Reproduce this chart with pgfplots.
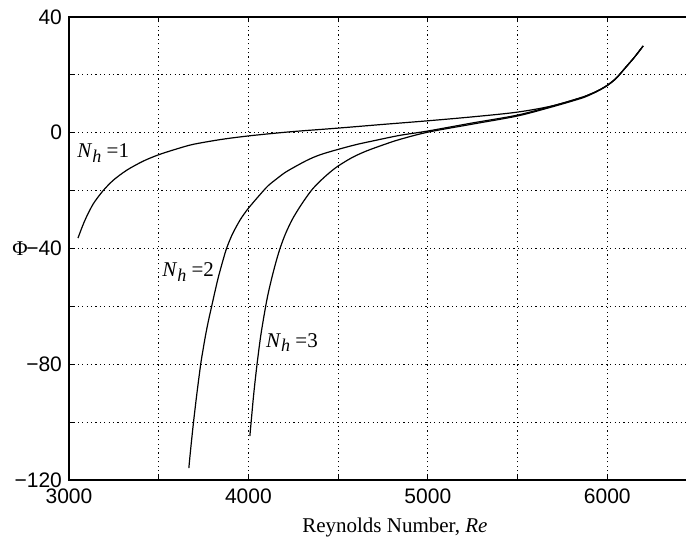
\documentclass[border=0pt]{standalone}
\usepackage{fontspec}
\setmainfont{Liberation Serif}
\newfontfamily\helv{Liberation Sans}
\usepackage{pgfplots}
\pgfplotsset{compat=1.18}

\pgfplotstableread{
Re Phi
3050 -36.4
3075 -32.3
3098 -29.0
3136 -24.5
3189 -20.1
3247 -16.4
3323 -12.9
3414 -9.8
3500 -7.6
3600 -5.6
3693 -4.0
3850 -2.3
4000 -1.1
4175 0.0
4287 0.6
4499 1.6
4733 2.8
4994 4.1
5250 5.5
5496 7.1
5696 9.3
5850 12.1
5900 13.2
5950 14.6
6000 16.4
6050 18.9
6100 22.4
6150 26.0
6200 30.0
}\nhone

\pgfplotstableread{
Re Phi
3668 -115.9
3677 -110.0
3694 -100.0
3713 -90.0
3734 -80.0
3747 -75.0
3761 -70.0
3777 -65.0
3795 -60.0
3813 -55.0
3832 -50.0
3854 -45.0
3878 -40.0
3911 -35.0
3955 -30.0
3996 -26.4
4035 -23.5
4070 -21.0
4110 -18.3
4160 -15.8
4213 -13.4
4324 -9.6
4400 -7.6
4497 -5.8
4600 -4.1
4696 -2.8
4844 -0.9
5000 0.6
5250 3.4
5500 6.1
5696 9.3
5850 12.0
5900 13.2
5950 14.6
6000 16.4
6050 18.9
6100 22.4
6150 26.0
6200 30.0
}\nhtwo

\pgfplotstableread{
Re Phi
4008 -104.8
4015 -100.0
4030 -90.0
4048 -80.0
4069 -70.0
4096 -60.0
4112 -55.0
4131 -50.0
4152 -45.0
4176 -40.0
4206 -35.0
4244 -30.0
4293 -25.0
4350 -20.0
4395 -17.0
4448 -14.0
4500 -11.5
4580 -8.5
4658 -6.3
4760 -4.0
4844 -2.3
5000 0.2
5250 3.0
5500 5.8
5696 9.0
5850 11.8
5900 13.0
5950 14.5
6000 16.3
6050 18.8
6100 22.4
6150 26.0
6200 30.0
}\nhthree

\begin{document}
\begin{tikzpicture}[font=\fontsize{10.5}{12.6}\selectfont]
\begin{axis}[
    at={(0pt,0pt)}, anchor=south west,
    scale only axis,
    width=314pt, height=231.5pt,
    xmin=3000, xmax=6500,
    ymin=-120, ymax=40,
    xtick={3000,4000,5000,6000},
    xticklabels={3000,4000,5000,6000},
    minor xtick={3500,4500,5500,6500},
    ytick={-120,-80,-40,0,40},
    yticklabels={−120,−80,−40,0,40},
    minor ytick={-100,-60,-20,20},
    xticklabel style={font=\helv\fontsize{10.5}{12.6}\selectfont, yshift=-1pt},
    yticklabel style={font=\helv\fontsize{10.5}{12.6}\selectfont},
    grid=both,
    major grid style={black, line width=0.45pt, dash pattern=on 0.6pt off 1.6pt},
    minor grid style={black, line width=0.45pt, dash pattern=on 0.6pt off 1.6pt},
    tick align=inside,
    major tick length=2.5pt, minor tick length=2.5pt,
    tick style={black, line width=0.5pt},
    axis line style={black, line width=0.7pt},
    xlabel={Reynolds Number, \textit{Re}},
    every axis x label/.style={at={(axis description cs:0.519,0)}, anchor=center, yshift=-23.5pt},
    ylabel={Φ},
    every axis y label/.style={at={(axis description cs:0,0.5)}, anchor=center, xshift=-24.5pt},
    clip=false,
]
\addplot[black, line width=0.6pt, smooth, tension=0.5] table[x=Re, y=Phi] {\nhone};
\addplot[black, line width=0.6pt, smooth, tension=0.5] table[x=Re, y=Phi] {\nhtwo};
\addplot[black, line width=0.6pt, smooth, tension=0.5] table[x=Re, y=Phi] {\nhthree};

\node[anchor=west, inner sep=0pt] at (axis cs:3045,-7) {\textit{N}\raisebox{-0.45ex}{\fontsize{9}{10}\selectfont\textit{h}} =1};
\node[anchor=west, inner sep=0pt] at (axis cs:3518,-48.1) {\textit{N}\raisebox{-0.45ex}{\fontsize{9}{10}\selectfont\textit{h}} =2};
\node[anchor=west, inner sep=0pt] at (axis cs:4097,-72.6) {\textit{N}\raisebox{-0.45ex}{\fontsize{9}{10}\selectfont\textit{h}} =3};
\end{axis}
\pgfresetboundingbox
\path[use as bounding box] (-34.5pt,-30pt) rectangle (308.5pt,240pt);
\end{tikzpicture}
\end{document}
